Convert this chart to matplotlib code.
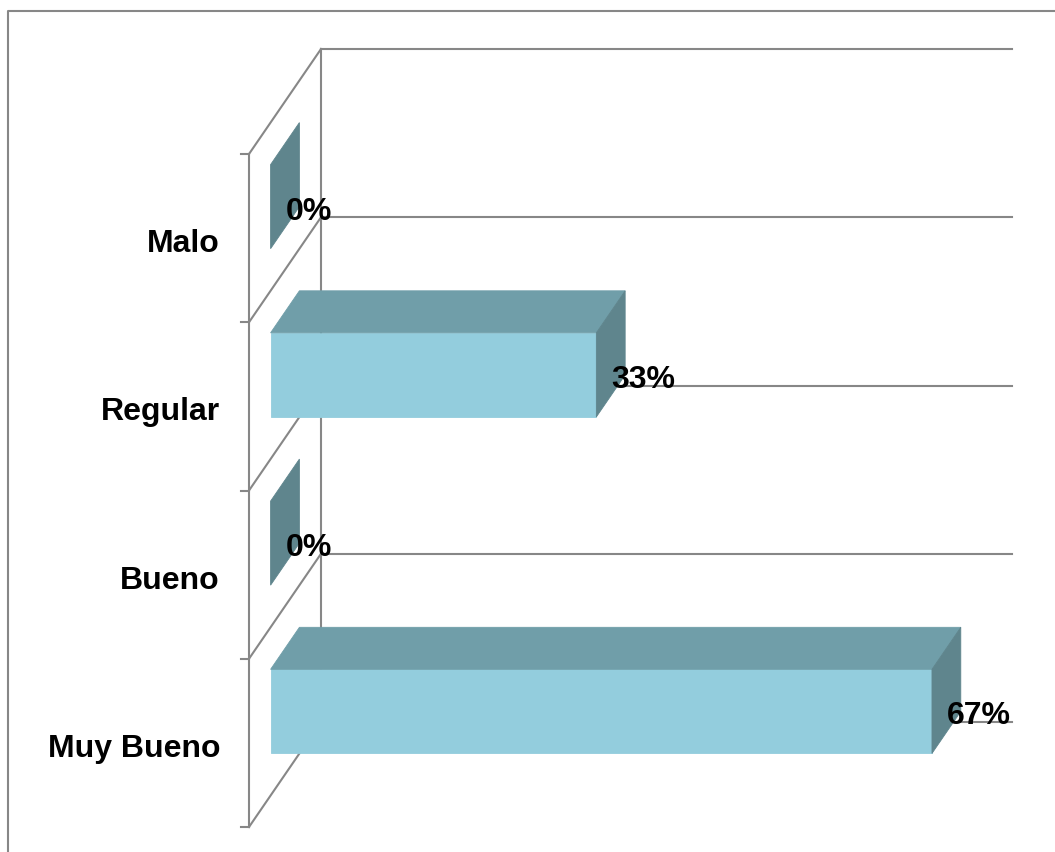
import matplotlib
matplotlib.use("Agg")
import matplotlib.pyplot as plt
from matplotlib.patches import Polygon
from matplotlib.lines import Line2D
from matplotlib.transforms import Affine2D, IdentityTransform

categories = ["Muy Bueno", "Bueno", "Regular", "Malo"]
percent = [67, 0, 33, 0]
value_max = 70

FRONT = "#93CDDD"
TOP = "#709EA9"
SIDE = "#5F858D"
GRID = "#878787"

# floor depth in pixels (right, up) and the slice of it the bars occupy
DEPTH = (72, 105)
BAR_D0, BAR_D1 = 0.3, 0.7
BAR_H = 0.5

W, H = 1055, 853
fig = plt.figure(figsize=(W / 100, H / 100), dpi=100)
ax = fig.add_axes([249 / W, 25 / H, 691 / W, 673 / H])
ax.set_xlim(0, value_max)
ax.set_ylim(0, len(categories))
ax.axis("off")


def at_depth(d):
    return ax.transData + Affine2D().translate(DEPTH[0] * d, DEPTH[1] * d)


def pt(v, c, d):
    return at_depth(d).transform((v, c))


def face(points, color):
    ax.add_patch(Polygon(points, closed=True, facecolor=color, edgecolor=color,
                         lw=0.6, transform=IdentityTransform(), clip_on=False,
                         zorder=3))


def seg(p0, p1):
    ax.add_line(Line2D([p0[0], p1[0]], [p0[1], p1[1]], color=GRID, lw=1.5,
                       transform=IdentityTransform(), clip_on=False, zorder=1))


n = len(categories)

# back wall: gridlines at the category boundaries
for k in range(n + 1):
    seg(pt(0, k, 1), pt(value_max, k, 1))
seg(pt(0, 0, 1), pt(0, n, 1))

# side wall: front edge, ticks and depth lines
seg(pt(0, 0, 0), pt(0, n, 0))
for k in range(n + 1):
    p = pt(0, k, 0)
    seg((p[0] - 8, p[1]), p)
    seg(p, pt(0, k, 1))

# bars
for i, v in enumerate(percent):
    c0, c1 = i + 0.5 - BAR_H / 2, i + 0.5 + BAR_H / 2
    if v > 0:
        face([pt(0, c0, BAR_D0), pt(v, c0, BAR_D0), pt(v, c1, BAR_D0), pt(0, c1, BAR_D0)], FRONT)
        face([pt(0, c1, BAR_D0), pt(v, c1, BAR_D0), pt(v, c1, BAR_D1), pt(0, c1, BAR_D1)], TOP)
    face([pt(v, c0, BAR_D0), pt(v, c0, BAR_D1), pt(v, c1, BAR_D1), pt(v, c1, BAR_D0)], SIDE)

# value labels and category labels
font = dict(fontsize=23, fontweight="bold", family=["Liberation Sans", "DejaVu Sans"],
            zorder=4)
for i, v in enumerate(percent):
    ax.annotate(f"{v}%", xy=(v, i + 0.5), xycoords=at_depth(BAR_D0),
                xytext=(15, -4), textcoords="offset pixels",
                ha="left", va="center", annotation_clip=False, **font)
    ax.annotate(categories[i], xy=(0, i + 0.5), xycoords=at_depth(0),
                xytext=(-29, -5), textcoords="offset pixels",
                ha="right", va="center", annotation_clip=False, **font)

# chart area border
fig.add_artist(Line2D([8, 8, W + 10], [-10, H - 12, H - 12], color=GRID, lw=1.5,
                      transform=IdentityTransform()))

fig.savefig("out.png", dpi=100)
